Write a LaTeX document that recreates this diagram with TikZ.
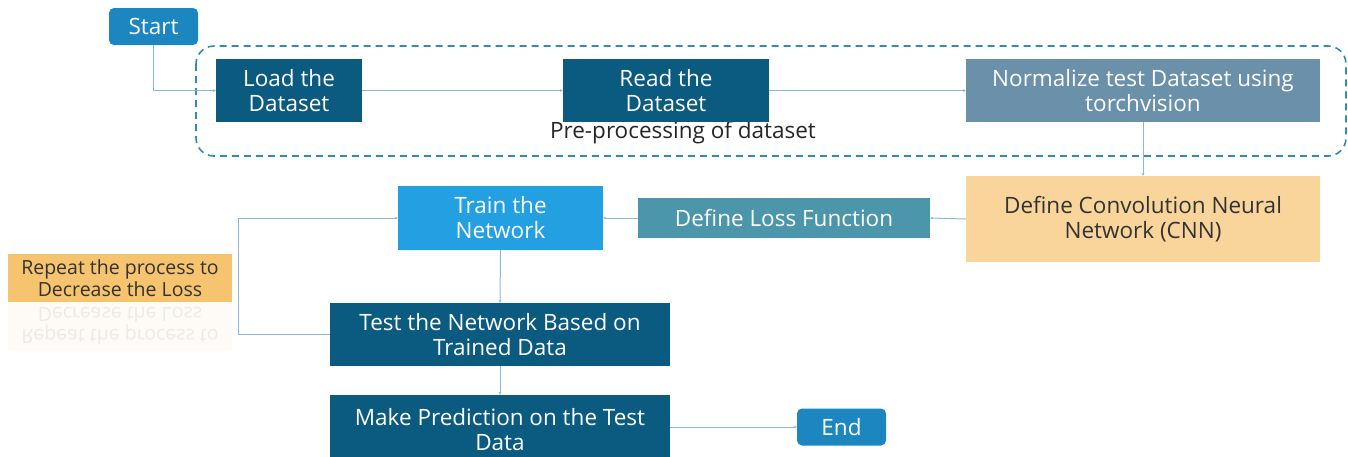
\documentclass[tikz,border=0pt]{standalone}
\usepackage{fontspec}
\setmainfont{Open Sans}
\usetikzlibrary{arrows.meta}
\definecolor{startblue}{HTML}{1B86C0}
\definecolor{darkblue}{HTML}{0B5A80}
\definecolor{normblue}{HTML}{6A90AA}
\definecolor{cnnorange}{HTML}{F9D59B}
\definecolor{lossteal}{HTML}{4B96AA}
\definecolor{trainblue}{HTML}{22A0E2}
\definecolor{repeatorange}{HTML}{F6C36F}
\definecolor{linkblue}{HTML}{8DB9D9}
\definecolor{dashblue}{HTML}{2E8BC0}
\tikzset{
  boxbase/.style={inner sep=0pt, align=center, font=\fontsize{22.5}{25}\selectfont, text=white},
  termbox/.style={boxbase, fill=startblue, rounded corners=5pt, minimum width=89pt, minimum height=37pt},
  darkbox/.style={boxbase, fill=darkblue},
  link/.style={draw=linkblue, line width=1pt, -{Stealth[length=3pt,width=3pt]}},
}
\begin{document}
\begin{tikzpicture}[x=1pt,y=-1pt]
\useasboundingbox (0,0) rectangle (1348,456);
% dashed group
\draw[dashblue, line width=1.6pt, dash pattern=on 7pt off 5pt, rounded corners=18pt] (196,46) rectangle (1346,156);
\node[font=\fontsize{22.5}{25}\selectfont, text=black!85] (pre) at (683,133) {Pre-processing of dataset};
% nodes
\node[termbox] (start) at (153.5,26.5) {Start};
\node[darkbox, minimum width=146pt, minimum height=63pt] (load) at (289,90.5) {Load the\\Dataset};
\node[darkbox, minimum width=206pt, minimum height=63pt] (read) at (666,90.5) {Read the\\Dataset};
\node[boxbase, fill=normblue, minimum width=354pt, minimum height=63pt] (norm) at (1143,90.5) {Normalize test Dataset using\\torchvision};
\node[boxbase, fill=cnnorange, text=black!80, minimum width=354pt, minimum height=86pt] (cnn) at (1143,219) {Define Convolution Neural\\Network (CNN)};
\node[boxbase, fill=lossteal, minimum width=292pt, minimum height=40pt] (loss) at (784,218) {Define Loss Function};
\node[boxbase, fill=trainblue, minimum width=205pt, minimum height=64pt] (train) at (500.5,218) {Train the\\Network};
\node[darkbox, minimum width=340pt, minimum height=63pt] (test) at (500,334.5) {Test the Network Based on\\Trained Data};
\node[darkbox, minimum width=340pt, minimum height=70pt] (pred) at (500,430) {Make Prediction on the Test\\Data};
\node[termbox] (end) at (841.5,427) {End};
% repeat label with faint reflection
\node[boxbase, fill=repeatorange, text=black!80, font=\fontsize{19.5}{22}\selectfont, minimum width=224pt, minimum height=48pt] (rep) at (120,278) {Repeat the process to\\Decrease the Loss};
\node[boxbase, fill=repeatorange, fill opacity=0.06, text opacity=0.07, text=black, font=\fontsize{19.5}{22}\selectfont, minimum width=224pt, minimum height=48pt, yscale=-1] (repr) at (120,326) {Repeat the process to\\Decrease the Loss};
% connectors
\coordinate (c1) at (start.south |- load.west);
\draw[link] (start.south) -- (c1) -- (load.west);
\draw[link] (load.east) -- (read.west);
\draw[link] (read.east) -- (norm.west);
\draw[link] (norm.south) -- (cnn.north);
\draw[link] (cnn.west) -- (loss.east);
\draw[link] (loss.west) -- (train.west -| train.east);
\draw[link] (train.south) -- (test.north);
\coordinate (c2) at (238,334.5);
\coordinate (c3) at (238,218);
\draw[link] (test.west) -- (c2) -- (c3) -- (train.west);
\draw[link] (test.south) -- (pred.north);
\draw[link] (pred.east |- end.west) -- (end.west);
\end{tikzpicture}
\end{document}
